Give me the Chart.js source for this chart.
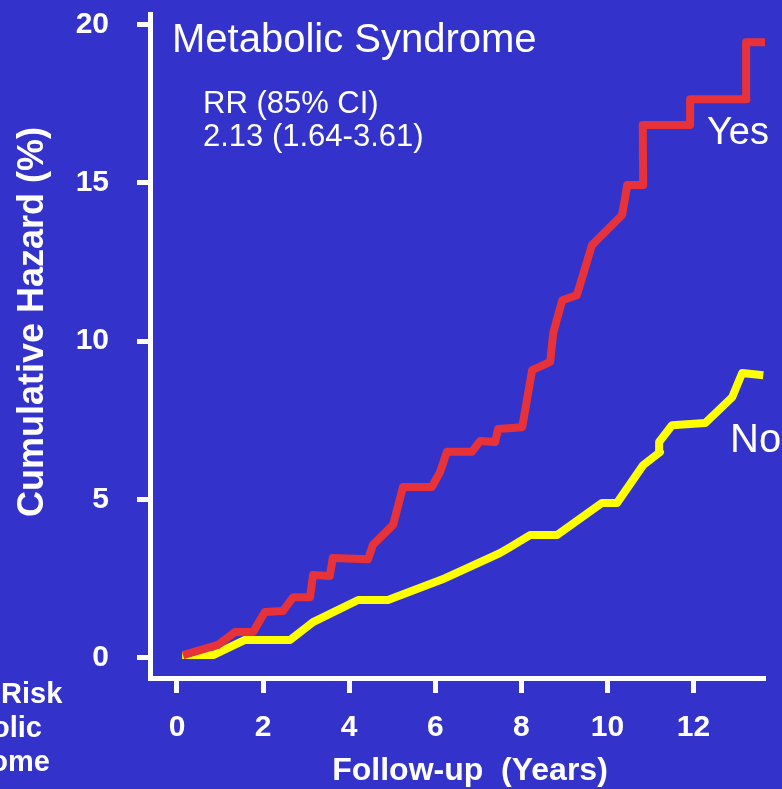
<!DOCTYPE html>
<html>
<head>
<meta charset="utf-8">
<script src="https://cdn.jsdelivr.net/npm/chart.js@4/dist/chart.umd.min.js"></script>
<style>
  html, body { margin: 0; padding: 0; background: #3333CC; }
  canvas { display: block; }
</style>
</head>
<body>
<canvas id="hazardChart" width="782" height="789"></canvas>
<script>
// follow-up years / cumulative hazard (%)
const yesYears = [0.14, 0.95, 1.35, 1.77, 2.04, 2.46, 2.70, 3.09, 3.16, 3.55, 3.62, 4.44, 4.55, 5.02, 5.25, 5.92, 6.11, 6.27, 6.85, 7.04, 7.39, 7.46, 8.02, 8.25, 8.67, 8.74, 8.95, 9.29, 9.64, 10.34, 10.46, 10.83, 10.82, 11.92, 11.92, 13.23, 13.22, 13.66];
const yesHazard = [0.08, 0.40, 0.81, 0.81, 1.44, 1.47, 1.91, 1.91, 2.61, 2.58, 3.15, 3.11, 3.56, 4.19, 5.39, 5.39, 5.86, 6.50, 6.50, 6.84, 6.81, 7.22, 7.28, 9.08, 9.34, 10.25, 11.29, 11.45, 13.03, 13.98, 14.93, 14.93, 16.82, 16.82, 17.64, 17.64, 19.44, 19.44];
const noYears = [0.12, 0.84, 1.58, 2.63, 3.16, 4.21, 4.90, 6.23, 7.50, 7.74, 8.20, 8.83, 9.87, 10.22, 10.83, 11.22, 11.20, 11.50, 12.27, 12.90, 13.13, 13.62];
const noHazard = [0.08, 0.08, 0.56, 0.56, 1.12, 1.82, 1.82, 2.51, 3.30, 3.49, 3.87, 3.87, 4.88, 4.88, 6.08, 6.49, 6.81, 7.34, 7.41, 8.23, 8.99, 8.92];
const xTicks = [0, 2, 4, 6, 8, 10, 12];
const yTicks = [0, 5, 10, 15, 20];

const FONT = '"Liberation Sans", Arial, sans-serif';

function toPoints(xs, ys) {
  return xs.map((x, i) => ({ x: x, y: ys[i] }));
}

const background = {
  id: 'background',
  beforeDraw(chart) {
    const ctx = chart.ctx;
    ctx.save();
    ctx.fillStyle = '#3333CC';
    ctx.fillRect(0, 0, chart.width, chart.height);
    ctx.restore();
  }
};

const labels = {
  id: 'labels',
  afterDraw(chart) {
    const ctx = chart.ctx;
    ctx.save();
    ctx.fillStyle = '#FFFFFF';
    ctx.textBaseline = 'alphabetic';

    ctx.font = '40px ' + FONT;
    ctx.textAlign = 'left';
    ctx.fillText('Metabolic Syndrome', 172, 52);

    ctx.font = '31px ' + FONT;
    ctx.fillText('RR (85% CI)', 203, 113);
    ctx.fillText('2.13 (1.64-3.61)', 203, 146);

    ctx.font = '38px ' + FONT;
    ctx.fillText('Yes', 707, 144);
    ctx.font = '40px ' + FONT;
    ctx.fillText('No', 730, 452);

    // axis titles
    ctx.font = 'bold 32px ' + FONT;
    ctx.textAlign = 'center';
    ctx.fillText('Follow-up  (Years)', 470, 780);

    ctx.save();
    ctx.translate(43, 322);
    ctx.rotate(-Math.PI / 2);
    ctx.font = 'bold 36px ' + FONT;
    ctx.fillText('Cumulative Hazard (%)', 0, 0);
    ctx.restore();

    // cut-off row labels at the left edge
    ctx.font = 'bold 29px ' + FONT;
    ctx.textAlign = 'left';
    ctx.fillText('Risk', 1, 703);
    ctx.textAlign = 'right';
    ctx.fillText('olic', 42, 737);
    ctx.fillText('ome', 50, 771);
    ctx.restore();
  }
};

new Chart(document.getElementById('hazardChart').getContext('2d'), {
  type: 'line',
  data: {
    datasets: [
      {
        label: 'Yes',
        data: toPoints(yesYears, yesHazard),
        borderColor: '#E63238',
        borderWidth: 8,
        borderJoinStyle: 'round',
        borderCapStyle: 'butt',
        pointRadius: 0,
        tension: 0,
        fill: false,
        clip: false
      },
      {
        label: 'No',
        data: toPoints(noYears, noHazard),
        borderColor: '#FFFF00',
        borderWidth: 8,
        borderJoinStyle: 'round',
        borderCapStyle: 'butt',
        pointRadius: 0,
        tension: 0,
        fill: false,
        clip: false
      }
    ]
  },
  options: {
    responsive: false,
    animation: false,
    devicePixelRatio: 1,
    layout: { padding: { top: 14, right: 17, left: 0, bottom: 0 } },
    plugins: {
      legend: { display: false },
      tooltip: { enabled: false }
    },
    scales: {
      x: {
        type: 'linear',
        min: -0.627,
        max: 13.66,
        afterFit(scale) {
          scale.height = 111;
          scale.paddingLeft = 0;
          scale.paddingRight = 0;
        },
        afterBuildTicks(scale) { scale.ticks = xTicks.map(v => ({ value: v })); },
        border: { display: true, color: '#FFFFFF', width: 5 },
        grid: { drawOnChartArea: false, drawTicks: true, tickLength: 15, tickWidth: 5, tickColor: '#FFFFFF', color: '#FFFFFF' },
        ticks: {
          color: '#FFFFFF',
          font: { family: FONT, size: 30, weight: 'bold' },
          padding: 17,
          maxRotation: 0,
          autoSkip: false
        }
      },
      y: {
        type: 'linear',
        min: -0.644,
        max: 20.33,
        afterFit(scale) {
          scale.width = 150;
          scale.paddingTop = 0;
          scale.paddingBottom = 0;
        },
        afterBuildTicks(scale) { scale.ticks = yTicks.map(v => ({ value: v })); },
        border: { display: true, color: '#FFFFFF', width: 5 },
        grid: { drawOnChartArea: false, drawTicks: true, tickLength: 13, tickWidth: 5, tickColor: '#FFFFFF', color: '#FFFFFF' },
        ticks: {
          color: '#FFFFFF',
          font: { family: FONT, size: 30, weight: 'bold' },
          padding: 28,
          autoSkip: false
        }
      }
    }
  },
  plugins: [background, labels]
});
</script>
</body>
</html>
